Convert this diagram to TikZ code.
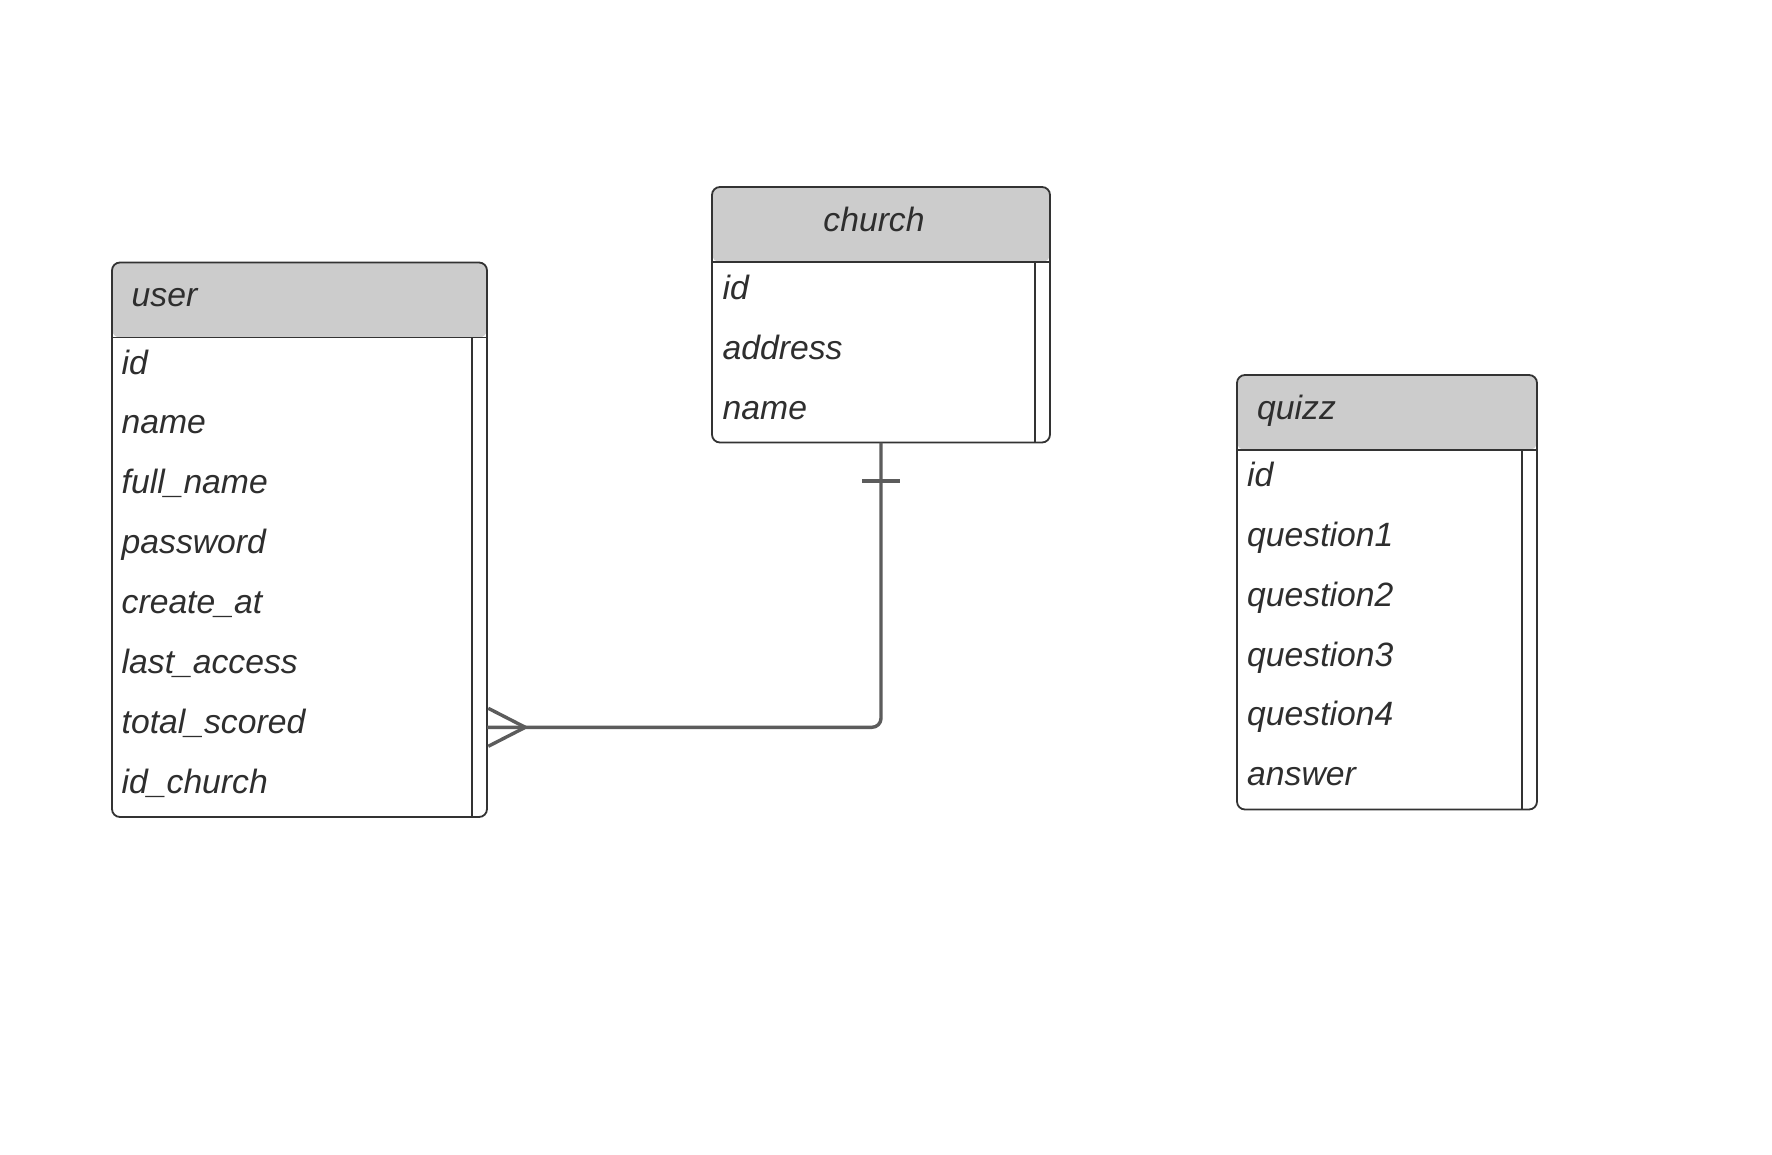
\documentclass[tikz,border=0pt]{standalone}
\usepackage{fontspec}
\setmainfont{Liberation Sans}
\usetikzlibrary{calc}
\definecolor{bd}{HTML}{333333}
\definecolor{hdr}{HTML}{CCCCCC}
\definecolor{txt}{HTML}{2E2E2E}
\definecolor{conn}{HTML}{5C5C5C}
\tikzset{
  tbl/.style={line width=1.8pt, rounded corners=8pt, inner sep=0pt, outer sep=0pt,
    anchor=north west, fill=white,
    path picture={
      \fill[hdr] (path picture bounding box.north west) rectangle ([yshift=-75pt]path picture bounding box.north east);
      \draw[bd, line width=1.8pt] ([yshift=-75pt]path picture bounding box.north west) -- ([yshift=-75pt]path picture bounding box.north east);
      \draw[bd, line width=2pt] ([xshift=-15.5pt,yshift=-75pt]path picture bounding box.north east) -- ([xshift=-15.5pt]path picture bounding box.south east);
    }},
  border/.style={draw=bd, line width=1.8pt, rounded corners=8pt},
  field/.style={anchor=base west, inner sep=0pt, text=txt, font=\fontsize{33.7}{40}\selectfont\itshape},
  title/.style={field},
  rel/.style={draw=conn, line width=3.4pt},
}
\begin{document}
\begin{tikzpicture}[x=1pt,y=-1pt]
\fill[white] (0,0) rectangle (1772,1155);
\useasboundingbox (0,0) rectangle (1772,1155);

% tables
\node[tbl, minimum width=375pt, minimum height=554.5pt] (user) at (112,262.5) {};
\node[tbl, minimum width=338pt, minimum height=255.5pt] (church) at (712,187) {};
\node[tbl, minimum width=300pt, minimum height=434.5pt] (quizz) at (1237,375) {};
\draw[border] (user.north west) rectangle (user.south east);
\draw[border] (church.north west) rectangle (church.south east);
\draw[border] (quizz.north west) rectangle (quizz.south east);

% titles
\node[title] (usert) at ($(user.north west)+(19.5,44)$) {user};
\node[title, anchor=base] (churcht) at ($(church.north west)+(162,45)$) {church};
\node[title] (quizzt) at ($(quizz.north west)+(20,44.3)$) {quizz};

% fields
\foreach \t [count=\i from 0] in {id,name,full\_name,password,create\_at,last\_access,total\_scored,id\_church}
  \node[field] (u\i) at ($(user.north west)+(9.5,111.5+59.9*\i)$) {\t};
\foreach \t [count=\i from 0] in {id,address,name}
  \node[field] (c\i) at ($(church.north west)+(10.5,112.3+59.9*\i)$) {\t};
\foreach \t [count=\i from 0] in {id,question1,question2,question3,question4,answer}
  \node[field] (q\i) at ($(quizz.north west)+(10,111.7+59.8*\i)$) {\t};

% relationship church (one) -- user (many)
\coordinate (ufk) at ($(user.north east)+(0,464.8)$);
\draw[rel, rounded corners=9pt] (church.south) |- (ufk);
\draw[rel] ($(church.south)+(-19,38.5)$) -- ++(38,0);
\draw[rel] ($(ufk)+(1.3,-19)$) -- ++(37,19) -- ++(-37,19);
\end{tikzpicture}
\end{document}
